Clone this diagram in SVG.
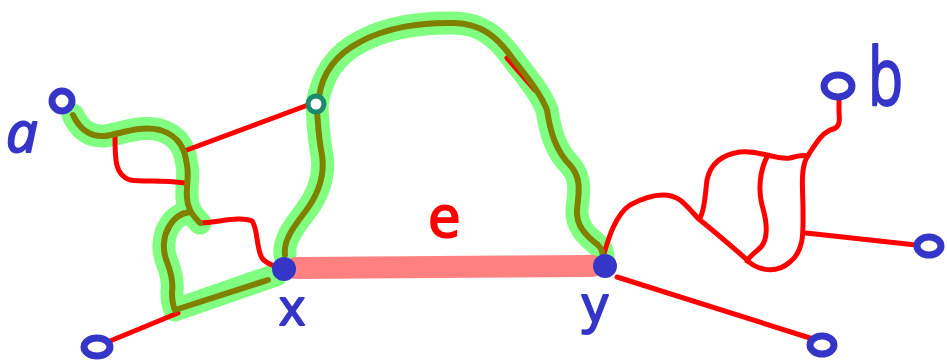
<svg xmlns="http://www.w3.org/2000/svg" width="947" height="362" viewBox="0 0 947 362">
<style>
.hl{fill:none;stroke:#80ff80;stroke-width:23;stroke-linecap:round;stroke-linejoin:round}
.ol{fill:none;stroke:#808000;stroke-width:6;stroke-linecap:round;stroke-linejoin:round}
.rd{fill:none;stroke:#ff0000;stroke-width:5;stroke-linecap:round;stroke-linejoin:round}
.bar{fill:none;stroke:#ff8080;stroke-width:22;stroke-linecap:round}
.on{fill:none;stroke:#3535c8;stroke-width:7}
.dot{fill:#3535c8}
.lbl{font-family:"Open Sans","DejaVu Sans",sans-serif;fill:#3535c8;stroke:#3535c8;stroke-width:2;stroke-linejoin:round}
</style>
<rect width="947" height="362" fill="#ffffff"/>
<g id="connectors">
  <!-- green highlights -->
  <path class="hl" d="M73,115 C80,130 90,137 105,136 C120,134 140,125 160,130 C180,136 185,150 187,165 C190,180 183,195 190,210 C193,216 197,220 200,223"/>
  <path class="hl" d="M190,212 C182,213 174,218 170,225 C163,235 162,250 167,262 C172,275 173,285 172,292 C172,300 173,306 175,310 L276,275"/>
  <path class="hl" d="M285,255 C283,240 295,225 305,212 C318,195 325,175 322,155 C318,135 318,120 317,105 C322,75 335,55 360,42 C385,28 420,22 455,23 C480,24 495,35 510,55 C525,75 540,92 547,110 C550,130 555,150 570,165 C583,180 578,195 577,210 C576,225 585,235 598,245 C603,250 603,255 603,260"/>
  <!-- red edges -->
  <path class="rd" d="M115,136 C115,160 115,175 130,180 C145,182 160,180 185,183"/>
  <path class="rd" d="M187,150 L308,105"/>
  <path class="rd" d="M167,232 C171,222 176,216 183,213"/>
  <path class="rd" d="M200,223 C220,222 240,216 252,221 C258,228 256,248 262,258 C266,264 272,264 278,268"/>
  <path class="rd" d="M110,341 L178,313"/>
  <path class="rd" d="M507,58 L535,90"/>
  <path class="rd" d="M603,257 C608,240 615,215 630,205 C645,197 665,190 680,200 C690,208 695,216 700,220 C715,232 730,245 745,258 C755,270 775,275 790,262 C805,250 803,230 803,210 C803,190 800,170 807,157 C815,145 820,135 830,130 C840,128 840,122 839,112 L839,99"/>
  <path class="rd" d="M700,218 C705,210 705,195 707,180 C710,165 720,155 740,152 C760,150 775,160 790,158 C800,155 805,155 808,156"/>
  <path class="rd" d="M767,157 C760,170 758,190 762,205 C768,225 768,240 760,248 C752,255 748,258 747,261"/>
  <path class="rd" d="M806,233 L916,245"/>
  <path class="rd" d="M617,277 L810,338"/>
  <!-- olive path -->
  <path class="ol" d="M73,115 C80,130 90,137 105,136 C120,134 140,125 160,130 C180,136 185,150 187,165 C190,180 183,195 190,210 C193,216 197,220 200,223"/>
  <path class="ol" d="M190,212 C182,213 174,218 170,225 C163,235 162,250 167,262 C172,275 173,285 172,292 C172,300 173,306 175,310 L268,280"/>
  <path class="ol" d="M285,255 C283,240 295,225 305,212 C318,195 325,175 322,155 C318,135 318,120 317,112"/>
  <path class="ol" d="M319,97 C322,75 335,55 360,42 C385,28 420,22 455,23 C480,24 495,35 510,55 C525,75 540,92 547,110 C550,130 555,150 570,165 C583,180 578,195 577,210 C576,225 585,235 598,245 C603,250 603,255 603,260"/>
  <!-- edge e -->
  <path class="bar" d="M296,268 L592,266"/>
</g>
<g id="node-a">
  <circle class="on" cx="62" cy="101" r="10"/>
  <text class="lbl" x="6" y="152" font-size="56" font-style="italic">a</text>
</g>
<g id="node-b">
  <ellipse class="on" cx="838" cy="86" rx="14" ry="11"/>
  <text class="lbl" transform="translate(868,105) scale(0.72,1)" font-size="80">b</text>
</g>
<g id="node-ll"><ellipse class="on" cx="97" cy="347" rx="13" ry="9"/></g>
<g id="node-lr"><ellipse class="on" cx="822" cy="345" rx="12" ry="9"/></g>
<g id="node-r"><ellipse class="on" cx="929" cy="246" rx="12" ry="9"/></g>
<g id="node-mid"><circle cx="316" cy="104" r="8" fill="#ffffff" stroke="#1a8a6a" stroke-width="5"/></g>
<g id="node-x">
  <circle class="dot" cx="284" cy="269" r="12"/>
  <text class="lbl" x="279" y="325" font-size="50">x</text>
</g>
<g id="node-y">
  <circle class="dot" cx="605" cy="266" r="12"/>
  <text class="lbl" x="582" y="322" font-size="52">y</text>
</g>
<g id="label-e">
  <text x="428" y="237" font-size="58" font-family="'Open Sans','DejaVu Sans',sans-serif" fill="#ff0000" stroke="#ff0000" stroke-width="2">e</text>
</g>
</svg>
